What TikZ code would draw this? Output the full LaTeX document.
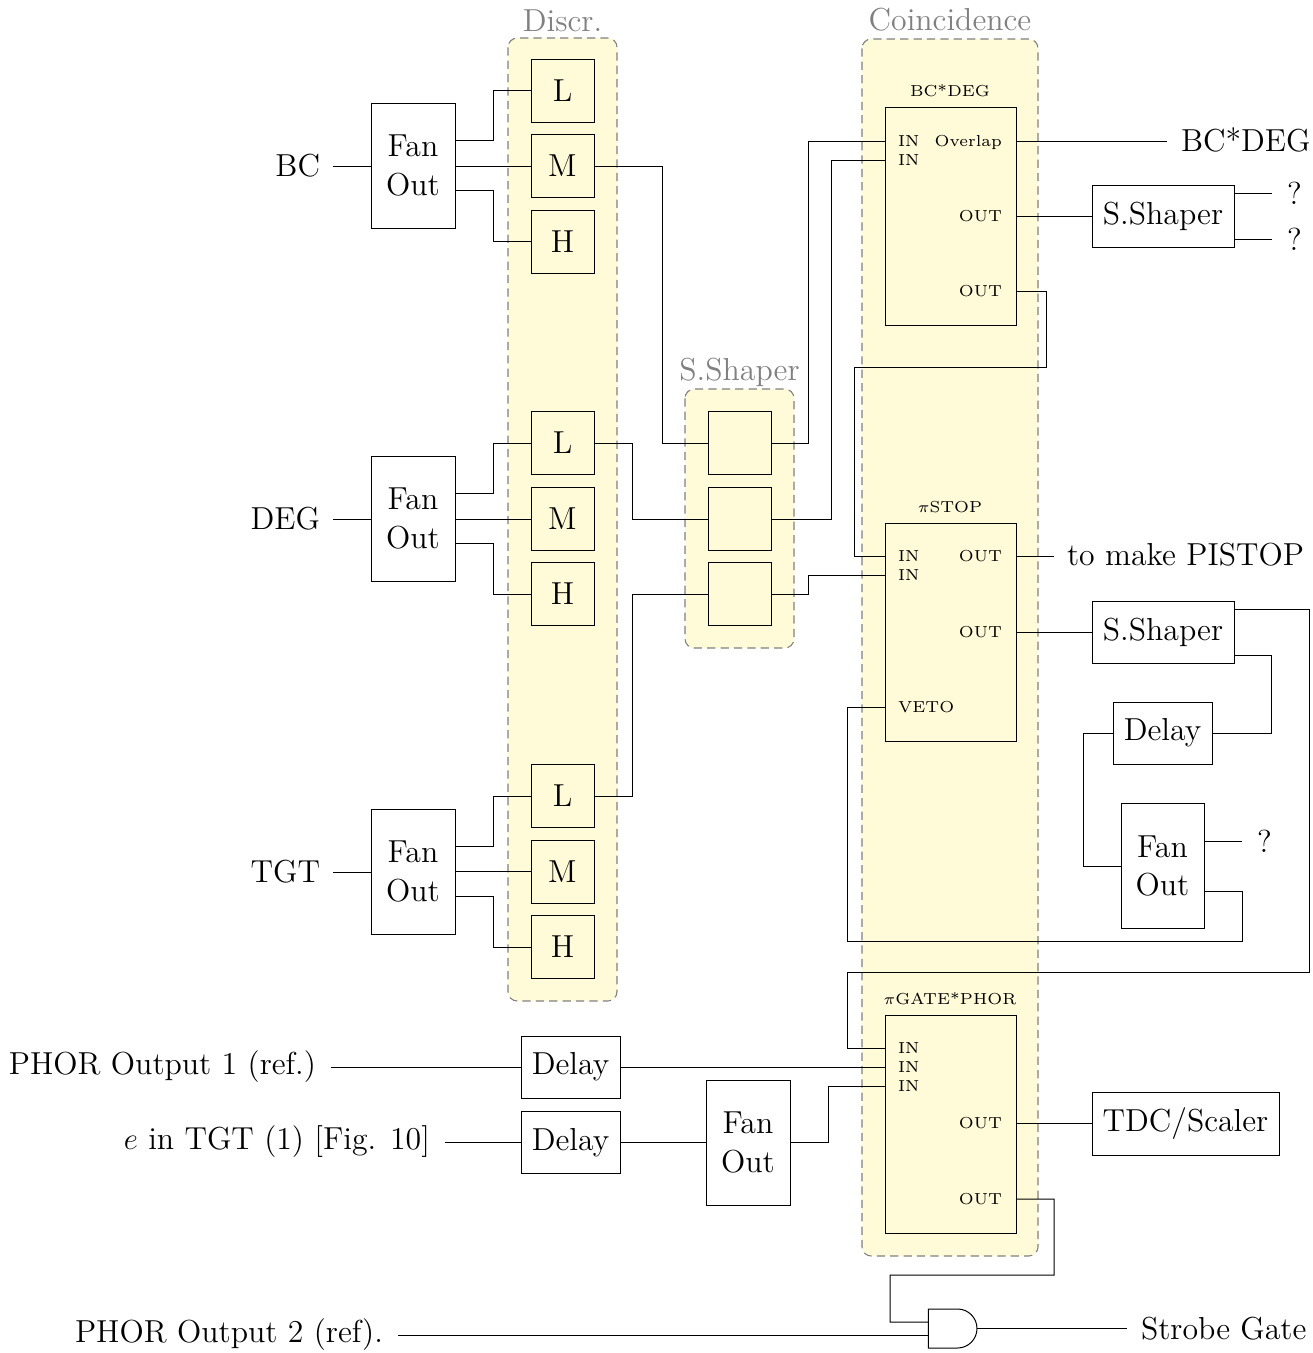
\documentclass[tikz,border=0pt]{standalone}
\usetikzlibrary{calc,shapes.gates.logic.US}
\def\px{0.38835pt}
\definecolor{grp}{RGB}{255,250,215}
\tikzset{
  x=0.38835pt,y=-0.38835pt,
  conn/.style={line width=0.39pt},
  txt/.style={font=\fontsize{12.35}{15.1}\selectfont,inner sep=0pt,outer sep=0pt},
  boxwh/.style 2 args={txt,draw,line width=0.39pt,rectangle,align=center,minimum width=#1*\px,minimum height=#2*\px},
  logic/.style={boxwh={63}{63}},
  fan/.style={boxwh={84}{125}},
  shaper/.style={boxwh={142}{62}},
  delaybox/.style={boxwh={99}{62}},
  coinc/.style={boxwh={131}{218}},
  lblL/.style={txt,anchor=east,inner xsep=13*\px},
  lblR/.style={txt,anchor=west,inner xsep=14*\px},
  grpbox/.style={draw=gray,fill=grp,dashed,dash pattern=on 3.2pt off 2pt,line width=0.42pt,rounded corners=3.6pt},
  grplbl/.style={txt,text=gray},
  port/.style={font=\fontsize{6.2}{7}\selectfont,inner sep=0pt,outer sep=0pt,text height=4.2pt,text depth=0pt},
  pin/.style={port,anchor=west},
  pout/.style={port,anchor=east},
  title/.style={port},
}
\begin{document}
\begin{tikzpicture}
\useasboundingbox (0,0) rectangle (1313,1353);
% group backgrounds
\path[grpbox] (508,38) rectangle (617,1001);
\path[grpbox] (685,389) rectangle (794,648);
\path[grpbox] (862,39) rectangle (1038,1256);
\node[grplbl] (gd) at (562.5,21) {Discr.};
\node[grplbl] (gs) at (739.5,372) {S.Shaper};
\node[grplbl] (gc) at (950,20) {Coincidence};
% inputs
\node[lblL] (bc) at (333,166) {BC};
\node[lblL] (deg) at (333,519) {DEG};
\node[lblL] (tgt) at (333,872) {TGT};
\node[fan] (f1) at (413,165.5) {Fan\\Out};
\node[fan] (f2) at (413,518.5) {Fan\\Out};
\node[fan] (f3) at (413,871.5) {Fan\\Out};
% discriminators
\node[logic] (l1) at (562.5,90.5) {L};
\node[logic] (m1) at (562.5,166) {M};
\node[logic] (h1) at (562.5,241.5) {H};
\node[logic] (l2) at (562.5,443) {L};
\node[logic] (m2) at (562.5,519) {M};
\node[logic] (h2) at (562.5,594) {H};
\node[logic] (l3) at (562.5,796) {L};
\node[logic] (m3) at (562.5,871.5) {M};
\node[logic] (h3) at (562.5,947) {H};
% shapers
\node[logic] (s1) at (739.5,443) {};
\node[logic] (s2) at (739.5,519) {};
\node[logic] (s3) at (739.5,594) {};
% coincidence units
\node[coinc] (cb) at (950.5,216) {};
\node[coinc] (cs) at (950.5,632) {};
\node[coinc] (cg) at (950.5,1124) {};
\node[title] (tb) at (950,91) {BC*DEG};
\node[title] (ts) at (950,507) {$\pi$STOP};
\node[title] (tg) at (950,999) {$\pi$GATE*PHOR};
\node[pin] (bi1) at (898,141) {IN};
\node[pin] (bi2) at (898,160) {IN};
\node[pout] (bo1) at (1002,141) {Overlap};
\node[pout] (bo2) at (1002,216) {OUT};
\node[pout] (bo3) at (1002,291) {OUT};
\node[pin] (si1) at (898,556) {IN};
\node[pin] (si2) at (898,575) {IN};
\node[pin] (sv) at (898,707) {VETO};
\node[pout] (so1) at (1002,556) {OUT};
\node[pout] (so2) at (1002,632) {OUT};
\node[pin] (gi1) at (898,1048) {IN};
\node[pin] (gi2) at (898,1067) {IN};
\node[pin] (gi3) at (898,1086) {IN};
\node[pout] (go1) at (1002,1123) {OUT};
\node[pout] (go2) at (1002,1199) {OUT};
% right side
\node[shaper] (ss1) at (1163,216) {S.Shaper};
\node[shaper] (ss2) at (1163,632) {S.Shaper};
\node[delaybox] (d3) at (1162.5,733) {Delay};
\node[boxwh={83}{125}] (f5) at (1162.5,866) {Fan\\Out};
\node[boxwh={187}{63}] (tdc) at (1185.5,1123.5) {TDC/Scaler};
\node[lblR] (obc) at (1167,140) {BC*DEG};
\node[lblR,inner xsep=15*\px] (q1) at (1272,193) {?};
\node[lblR,inner xsep=15*\px] (q2) at (1272,239) {?};
\node[lblR,inner xsep=15*\px] (q3) at (1242,841) {?};
\node[lblR,inner xsep=13*\px] (pis) at (1054,555) {to make PISTOP};
% bottom
\node[lblL,inner xsep=15*\px] (p1) at (331,1067) {PHOR Output 1 (ref.)};
\node[lblL,inner xsep=15*\px] (ee) at (445,1142) {$e$ in TGT (1) [Fig. 10]};
\node[lblL,inner xsep=15*\px] (p2) at (398,1335) {PHOR Output 2 (ref).};
\node[delaybox] (d1) at (570.5,1067) {Delay};
\node[delaybox] (d2) at (570.5,1142.5) {Delay};
\node[fan] (f4) at (748,1142.5) {Fan\\Out};
\node[and gate US,draw,line width=0.39pt,logic gate inputs=nn,inner sep=0pt,outer sep=0pt,
  minimum width=48*\px,minimum height=39*\px,logic gate input sep=13*\px] (ag) at (951,1328.5) {};
\node[lblR] (sg) at (1127,1329) {Strobe Gate};
% connectors
\begin{scope}[conn]
\draw (bc.east) -- (bc.east -| f1.west);
\draw (deg.east) -- (deg.east -| f2.west);
\draw (tgt.east) -- (tgt.east -| f3.west);
\foreach \f/\l/\m/\h in {f1/l1/m1/h1,f2/l2/m2/h2,f3/l3/m3/h3}{
  \draw ($(\f.east)+(0,-25)$) -- ++(38,0) |- (\l.west);
  \draw (\m.west -| \f.east) -- (\m.west);
  \draw ($(\f.east)+(0,25)$) -- ++(38,0) |- (\h.west);
}
\draw (m1.east) -- ++(68,0) |- (s1.west);
\draw (l2.east) -- ++(38,0) |- (s2.west);
\draw (l3.east) -- ++(38,0) |- (s3.west);
\draw (s1.east) -- ++(37,0) |- (bi1 -| cb.west);
\draw (s2.east) -- ++(60,0) |- (bi2 -| cb.west);
\draw (s3.east) -- ++(37,0) |- (si2 -| cs.west);
\draw (bo1 -| cb.east) -- (bo1 -| obc.west);
\draw (bo2 -| cb.east) -- (bo2 -| ss1.west);
\draw (bo3 -| cb.east) -- ++(30,0) -- ++(0,76) -| (854,556) -- (si1 -| cs.west);
\draw (q1.west -| ss1.east) -- (q1.west);
\draw (q2.west -| ss1.east) -- (q2.west);
\draw (so1 -| cs.east) -- (so1 -| pis.west);
\draw (so2 -| cs.east) -- (so2 -| ss2.west);
\draw ($(ss2.east)+(0,-23)$) -- ++(75,0) -- ++(0,363) -| (847,1048) -- (gi1 -| cg.west);
\draw ($(ss2.east)+(0,23)$) -- ++(37,0) |- (d3.east);
\draw (d3.west) -- ++(-30,0) |- (f5.west);
\draw (q3.west -| f5.east) -- (q3.west);
\draw ($(f5.east)+(0,25)$) -- ++(38,0) -- ++(0,50) -| (847,707) -- (sv -| cs.west);
\draw (d1.west -| p1.east) -- (d1.west);
\draw (d1.east) -- (gi2 -| cg.west);
\draw (d2.west -| ee.east) -- (d2.west);
\draw (d2.east) -- (f4.west);
\draw (f4.east) -- ++(38,0) |- (gi3 -| cg.west);
\draw (go1 -| cg.east) -- (go1 -| tdc.west);
\draw (go2 -| cg.east) -- ++(38,0) -- ++(0,76) -| (890,1322) -- (ag.input 1);
\draw (p2.east |- ag.input 2) -- (ag.input 2);
\draw (ag.output) -- (ag.output -| sg.west);
\end{scope}
\end{tikzpicture}
\end{document}
